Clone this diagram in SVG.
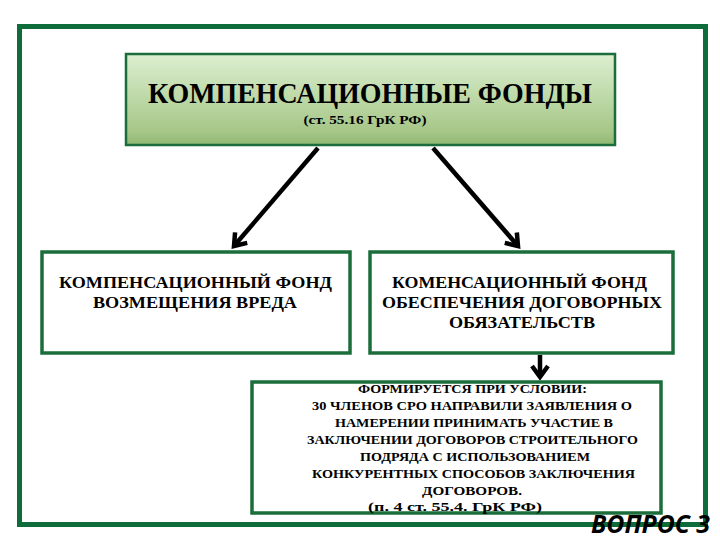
<svg xmlns="http://www.w3.org/2000/svg" width="720" height="540" viewBox="0 0 720 540">
<style>
.t{font-family:'Liberation Serif','DejaVu Serif','Times New Roman',serif;font-weight:700;fill:#000;text-anchor:middle}
.box{fill:#fff;stroke:#1b6e3b;stroke-width:3.5}
.con{stroke:#000;stroke-width:4.5;fill:none;stroke-linecap:butt}
</style>
<defs>
<linearGradient id="g" x1="0" y1="0" x2="0" y2="1">
<stop offset="0" stop-color="#dcefd0"/>
<stop offset="0.85" stop-color="#a6c788"/>
<stop offset="1" stop-color="#8fb873"/>
</linearGradient>
<marker id="ah" markerUnits="userSpaceOnUse" markerWidth="30" markerHeight="30" viewBox="-20 -15 30 30" refX="0" refY="0" orient="auto" overflow="visible">
<path d="M-11,-8 L0,0 L-11,8" fill="none" stroke="#000" stroke-width="4.5" stroke-linejoin="miter"/>
</marker>
</defs>
<rect width="720" height="540" fill="#fff"/>
<rect id="frame" x="19.5" y="26.5" width="686" height="498" fill="none" stroke="#0e6b3a" stroke-width="5"/>
<g id="connectors">
<line class="con" x1="318" y1="148" x2="234" y2="246" marker-end="url(#ah)"/>
<line class="con" x1="433" y1="148" x2="518" y2="246" marker-end="url(#ah)"/>
<line class="con" x1="540" y1="355" x2="540" y2="377" marker-end="url(#ah)"/>
</g>
<g id="node-main">
<rect x="126" y="54" width="489" height="91" fill="url(#g)" stroke="#1b6e3b" stroke-width="2.5"/>
<text class="t" x="370" y="103" font-size="29" textLength="444" lengthAdjust="spacingAndGlyphs">КОМПЕНСАЦИОННЫЕ ФОНДЫ</text>
<text class="t" x="365" y="124" font-size="12.5" textLength="123" lengthAdjust="spacingAndGlyphs">(ст. 55.16 ГрК РФ)</text>
</g>
<g id="node-left">
<rect class="box" x="42" y="252" width="308" height="101"/>
<text class="t" x="195.5" y="288" font-size="17.5" textLength="273" lengthAdjust="spacingAndGlyphs">КОМПЕНСАЦИОННЫЙ ФОНД</text>
<text class="t" x="195" y="308" font-size="17.5" textLength="204" lengthAdjust="spacingAndGlyphs">ВОЗМЕЩЕНИЯ ВРЕДА</text>
</g>
<g id="node-right">
<rect class="box" x="370" y="252" width="303" height="101"/>
<text class="t" x="519.5" y="288" font-size="17.5" textLength="255" lengthAdjust="spacingAndGlyphs">КОМЕНСАЦИОННЫЙ ФОНД</text>
<text class="t" x="522" y="308" font-size="17.5" textLength="280" lengthAdjust="spacingAndGlyphs">ОБЕСПЕЧЕНИЯ ДОГОВОРНЫХ</text>
<text class="t" x="522" y="328" font-size="17.5" textLength="146" lengthAdjust="spacingAndGlyphs">ОБЯЗАТЕЛЬСТВ</text>
</g>
<g id="node-bottom">
<rect class="box" x="252" y="382" width="409" height="131"/>
<text class="t" x="472.5" y="393" font-size="13.5" textLength="229" lengthAdjust="spacingAndGlyphs">ФОРМИРУЕТСЯ ПРИ УСЛОВИИ:</text>
<text class="t" x="472" y="410" font-size="13.5" textLength="320" lengthAdjust="spacingAndGlyphs">30 ЧЛЕНОВ СРО НАПРАВИЛИ ЗАЯВЛЕНИЯ О</text>
<text class="t" x="474" y="427" font-size="13.5" textLength="278" lengthAdjust="spacingAndGlyphs">НАМЕРЕНИИ ПРИНИМАТЬ УЧАСТИЕ В</text>
<text class="t" x="472.5" y="444" font-size="13.5" textLength="331" lengthAdjust="spacingAndGlyphs">ЗАКЛЮЧЕНИИ ДОГОВОРОВ СТРОИТЕЛЬНОГО</text>
<text class="t" x="475" y="461" font-size="13.5" textLength="230" lengthAdjust="spacingAndGlyphs">ПОДРЯДА С ИСПОЛЬЗОВАНИЕМ</text>
<text class="t" x="473.5" y="478" font-size="13.5" textLength="323" lengthAdjust="spacingAndGlyphs">КОНКУРЕНТНЫХ СПОСОБОВ ЗАКЛЮЧЕНИЯ</text>
<text class="t" x="472" y="495" font-size="13.5" textLength="100" lengthAdjust="spacingAndGlyphs">ДОГОВОРОВ.</text>
<text class="t" x="455" y="511" font-size="13.5" textLength="174" lengthAdjust="spacingAndGlyphs">(п. 4 ст. 55.4. ГрК РФ)</text>
</g>
<text id="question" x="591" y="533" font-family="'Open Sans','Liberation Sans',Arial,sans-serif" font-weight="bold" font-style="italic" font-size="25" textLength="119" lengthAdjust="spacingAndGlyphs" fill="#000">ВОПРОС 3</text>
</svg>
